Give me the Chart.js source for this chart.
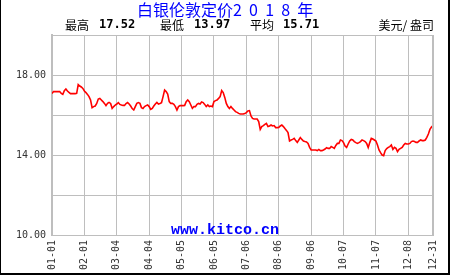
<head>
    <title>Silver 2018</title>
    <style>
        body { margin: 0; background: #fff; }
    </style>
</head>

<body>

    <div>
        <canvas id="myChart" width="450" height="275"></canvas>
    </div>

    <script src="https://cdn.jsdelivr.net/npm/chart.js"></script>

    <script>

        // trading day index of each tick, and its label
        const xTickDays = [0, 21, 42, 63, 84, 105, 126, 147, 168, 189, 210, 231, 247];
        const xTickLabels = ["01-01", "02-01", "03-04", "04-04", "05-05", "06-05", "07-06", "08-06", "09-06", "10-07", "11-07", "12-08", "12-31"];

        const yTicks = [10, 14, 18];

        const statNames = ["最高", "最低", "平均"];
        const statValues = ["17.52", "13.97", "15.71"];

        // daily London fix, usd/oz, one row per tick interval
        const jan = [17.08, 17.17, 17.17, 17.17, 17.17, 17.17, 17.08, 17.03, 17.22, 17.30, 17.20, 17.13, 17.07, 17.07, 17.07, 17.07, 17.08, 17.52, 17.45, 17.40, 17.33];
        const feb = [17.20, 17.12, 17.03, 16.92, 16.75, 16.37, 16.42, 16.45, 16.58, 16.80, 16.83, 16.75, 16.67, 16.58, 16.47, 16.58, 16.63, 16.58, 16.33, 16.42, 16.50];
        const mar = [16.55, 16.62, 16.53, 16.50, 16.48, 16.48, 16.57, 16.62, 16.55, 16.45, 16.32, 16.25, 16.42, 16.58, 16.62, 16.58, 16.37, 16.33, 16.42, 16.47, 16.50];
        const apr = [16.42, 16.28, 16.33, 16.45, 16.55, 16.63, 16.55, 16.58, 16.62, 16.92, 17.25, 17.17, 17.05, 16.67, 16.58, 16.58, 16.53, 16.42, 16.25, 16.42, 16.47];
        const may = [16.47, 16.47, 16.48, 16.67, 16.75, 16.67, 16.50, 16.33, 16.42, 16.42, 16.53, 16.58, 16.55, 16.65, 16.62, 16.53, 16.42, 16.50, 16.42, 16.45, 16.42];
        const jun = [16.67, 16.72, 16.75, 16.83, 16.92, 17.22, 17.12, 16.88, 16.58, 16.42, 16.33, 16.42, 16.33, 16.25, 16.17, 16.13, 16.08, 16.05, 16.05, 16.05, 16.08];
        const jul = [16.12, 16.20, 16.22, 15.95, 15.83, 15.80, 15.80, 15.80, 15.67, 15.28, 15.42, 15.47, 15.53, 15.58, 15.42, 15.45, 15.50, 15.45, 15.47, 15.37, 15.37];
        const aug = [15.38, 15.45, 15.50, 15.42, 15.32, 15.23, 15.12, 14.70, 14.75, 14.78, 14.83, 14.72, 14.63, 14.75, 14.87, 14.78, 14.70, 14.67, 14.65, 14.58, 14.38];
        const sep = [14.25, 14.25, 14.25, 14.25, 14.22, 14.28, 14.22, 14.22, 14.25, 14.30, 14.37, 14.33, 14.33, 14.42, 14.38, 14.33, 14.48, 14.58, 14.58, 14.75, 14.72];
        const oct = [14.62, 14.45, 14.38, 14.55, 14.70, 14.78, 14.75, 14.67, 14.62, 14.58, 14.62, 14.67, 14.75, 14.72, 14.67, 14.58, 14.37, 14.62, 14.83, 14.80, 14.75];
        const nov = [14.70, 14.50, 14.25, 14.12, 14.00, 13.97, 14.22, 14.32, 14.38, 14.42, 14.50, 14.28, 14.38, 14.33, 14.17, 14.28, 14.33, 14.38, 14.50, 14.58, 14.55];
        const dec = [14.55, 14.58, 14.67, 14.70, 14.67, 14.63, 14.63, 14.70, 14.75, 14.72, 14.72, 14.75, 14.88, 15.05, 15.28, 15.40, 15.47];

        const prices = [].concat(jan, feb, mar, apr, may, jun, jul, aug, sep, oct, nov, dec);

        const frame = {
            id: "frame",
            beforeDraw(chart) {
                const c = chart.ctx;
                c.save();
                c.fillStyle = "#fff";
                c.fillRect(0, 0, chart.width, chart.height);
                c.restore();
            },
            beforeDatasetsDraw(chart) {
                const c = chart.ctx;
                c.save();
                c.fillStyle = "#0000ff";
                c.font = "bold 15px 'Liberation Mono'";
                c.textAlign = "center";
                c.textBaseline = "alphabetic";
                c.fillText("www.kitco.cn", 225, 234);
                c.restore();
            },
            afterDraw(chart) {
                const c = chart.ctx;
                const a = chart.chartArea;
                c.save();
                // plot border
                c.strokeStyle = "#bebebe";
                c.lineWidth = 2;
                c.beginPath();
                c.moveTo(a.right, a.top);
                c.lineTo(a.right, a.bottom);
                c.stroke();
                // outer frame
                c.fillStyle = "#000";
                c.fillRect(0, 0, 1, chart.height);
                c.fillRect(chart.width - 2, 0, 2, chart.height);
                c.fillRect(0, chart.height - 2, chart.width, 2);

                // title, digits spread out like the original
                c.fillStyle = "#0000ff";
                c.font = "16px 'Noto Sans CJK SC'";
                c.textAlign = "left";
                c.textBaseline = "middle";
                const head = "白银伦敦定价";
                c.fillText(head, 137, 10);
                const w = c.measureText(head).width;
                c.letterSpacing = "1.8px";
                c.fillText("2 0 1 8 年", 137 + w, 10);
                c.letterSpacing = "0px";

                // stats line
                c.fillStyle = "#000";
                const nameX = [65, 160, 250];
                const valX = [99, 194, 283];
                for (let i = 0; i < statNames.length; i++) {
                    c.font = "12px 'Noto Sans CJK SC'";
                    c.fillText(statNames[i], nameX[i], 25);
                    c.font = "bold 12px 'DejaVu Sans Mono'";
                    c.fillText(statValues[i], valX[i], 25);
                }
                c.font = "12px 'Noto Sans CJK SC'";
                c.textAlign = "right";
                c.fillText("美元/ 盎司", 434, 25);
                c.restore();
            }
        };

        const ctx = document.getElementById("myChart");

        new Chart(ctx, {
            type: "line",
            data: {
                datasets: [{
                    data: prices.map((p, i) => ({ x: i, y: p })),
                    borderColor: "#ff0000",
                    borderWidth: 1.6,
                    pointRadius: 0,
                    tension: 0,
                    fill: false
                }]
            },
            options: {
                responsive: false,
                animation: false,
                layout: { padding: { top: 35, right: 6, left: 0, bottom: 0 } },
                scales: {
                    x: {
                        type: "linear",
                        min: 0,
                        max: 247,
                        afterBuildTicks: (axis) => { axis.ticks = xTickDays.map(v => ({ value: v })); },
                        afterFit: (s) => { s.height = 40; },
                        grid: { color: "#bebebe", lineWidth: 1, drawTicks: false },
                        border: { color: "#bebebe", width: 1 },
                        ticks: {
                            autoSkip: false,
                            maxRotation: 90,
                            minRotation: 90,
                            padding: 5,
                            color: "#333",
                            font: { family: "DejaVu Sans Mono", size: 10 },
                            callback: (v) => xTickLabels[xTickDays.indexOf(v)]
                        }
                    },
                    y: {
                        min: 10,
                        max: 20,
                        afterFit: (s) => { s.width = 52; },
                        grid: { color: "#bebebe", lineWidth: 1, drawTicks: false },
                        border: { color: "#bebebe", width: 2 },
                        ticks: {
                            stepSize: 2,
                            padding: 6,
                            color: "#333",
                            font: { family: "DejaVu Sans Mono", size: 10 },
                            callback: (v) => yTicks.includes(v) ? v.toFixed(2) : ""
                        }
                    }
                },
                plugins: {
                    legend: { display: false },
                    tooltip: { enabled: false }
                }
            },
            plugins: [frame]
        });
    </script>

</body>
